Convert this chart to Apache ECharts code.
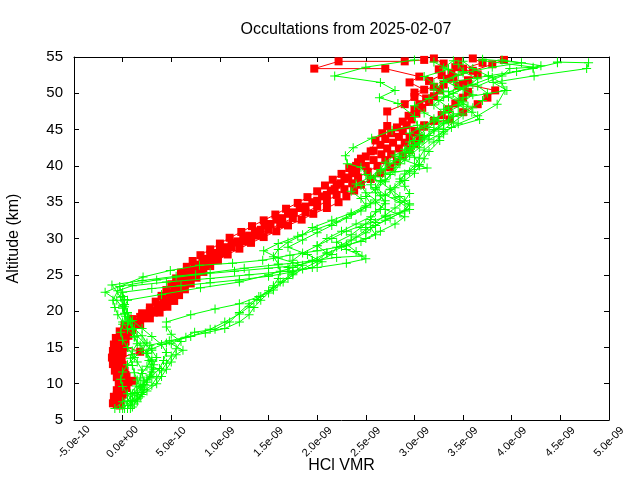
<!DOCTYPE html>
<html>
<head>
<meta charset="utf-8">
<script src="https://cdn.jsdelivr.net/npm/echarts@6/dist/echarts.min.js"></script>
<style>html,body{margin:0;padding:0;background:#fff}#c{width:640px;height:480px}</style>
</head>
<body>
<div id="c"></div>
<script>
// Values in units of 1e-9 (VMR), altitude in km
const titleText = 'Occultations from 2025-02-07';
const xTickLabels = ['-5.0e-10','0.0e+00','5.0e-10','1.0e-09','1.5e-09','2.0e-09','2.5e-09','3.0e-09','3.5e-09','4.0e-09','4.5e-09','5.0e-09'];
const yTickValues = [5,10,15,20,25,30,35,40,45,50,55];

const red1 = [[-0.03,7.0],[-0.05,7.8],[-0.02,8.6],[0.0,9.5],[0.02,10.3],[0.0,11.1],[-0.02,12.0],[-0.03,12.8],[-0.05,13.6],[-0.06,14.4],[-0.04,15.2],[-0.03,16.0],[0.0,16.8],[0.02,17.6],[0.08,18.4],[0.18,19.2],[0.28,20.0],[0.36,20.8],[0.42,21.6],[0.48,22.4],[0.53,23.2],[0.58,24.0],[0.64,24.8],[0.72,25.6],[0.78,26.4],[0.85,27.2],[0.95,28.0],[1.07,28.8],[1.18,29.6],[1.3,30.4],[1.42,31.2],[1.52,32.0],[1.64,32.8],[1.76,33.6],[1.88,34.4],[2.0,35.2],[2.1,36.0],[2.18,36.8],[2.24,37.6],[2.32,38.4],[2.4,39.2],[2.5,40.0],[2.58,40.8],[2.66,41.6],[2.72,42.4],[2.78,43.2],[2.84,44.0],[2.88,44.8],[2.92,45.6],[2.97,46.4],[3.02,47.2],[3.08,48.0],[3.15,48.8],[3.2,49.6],[3.26,50.4],[3.3,51.2],[3.35,52.0],[3.38,52.8],[3.42,53.6],[3.45,54.4]];
const red2 = [[-0.06,7.2],[-0.04,8.0],[0.0,8.8],[0.03,9.6],[0.1,10.4],[0.03,11.2],[0.0,12.0],[-0.02,12.8],[-0.02,13.6],[0.18,14.4],[0.0,15.2],[0.0,16.0],[0.01,16.8],[0.04,17.6],[0.12,18.4],[0.22,19.2],[0.3,20.0],[0.38,20.8],[0.45,21.6],[0.5,22.4],[0.56,23.2],[0.62,24.0],[0.7,24.8],[0.76,25.6],[0.84,26.4],[0.92,27.2],[1.02,28.0],[1.12,28.8],[1.25,29.6],[1.38,30.4],[1.5,31.2],[1.62,32.0],[1.75,32.8],[1.88,33.6],[2.0,34.4],[2.1,35.2],[2.2,36.0],[2.28,36.8],[2.36,37.6],[2.42,38.4],[2.52,39.2],[2.62,40.0],[2.7,40.8],[2.76,41.6],[2.84,42.4],[2.9,43.2],[2.95,44.0],[3.0,44.8],[3.1,45.6],[3.36,46.4],[3.5,47.4],[3.65,48.5],[3.75,49.4],[3.83,50.4],[3.5,51.3],[3.4,52.2],[3.6,53.1],[3.8,54.0],[3.92,54.6]];
const red3 = [[-0.08,7.5],[-0.06,8.4],[-0.03,9.3],[-0.01,10.2],[-0.03,11.1],[-0.05,12.0],[-0.07,12.9],[-0.08,13.8],[-0.07,14.7],[-0.05,15.6],[-0.02,16.5],[0.05,17.4],[0.12,18.3],[0.2,19.0],[0.32,19.8],[0.4,20.6],[0.47,21.5],[0.52,22.4],[0.57,23.3],[0.62,24.2],[0.68,25.1],[0.74,26.0],[0.82,26.9],[0.9,27.8],[1.0,28.6],[1.12,29.4],[1.24,30.2],[1.36,31.0],[1.46,31.8],[1.58,32.6],[1.7,33.4],[1.82,34.2],[1.95,35.0],[2.05,35.8],[2.14,36.6],[2.2,37.4],[2.28,38.2],[2.36,39.0],[2.4,40.0],[2.45,41.0],[2.55,42.0],[2.6,43.5],[2.67,44.5],[2.72,45.5],[2.72,47.5],[2.9,48.5],[3.0,49.5],[3.1,50.5],[2.95,51.5],[3.05,52.3],[2.7,53.4],[1.97,53.4],[2.22,54.4],[2.9,54.4],[3.1,54.6]];
const red4 = [[-0.1,7.3],[-0.09,8.2],[-0.06,9.1],[-0.04,10.0],[-0.06,10.9],[-0.08,11.8],[-0.1,12.7],[-0.11,13.6],[-0.1,14.5],[-0.09,15.4],[-0.07,16.3],[-0.03,17.2],[0.02,18.1],[0.1,18.9],[0.2,19.7],[0.28,20.5],[0.34,21.3],[0.4,22.1],[0.45,22.9],[0.5,23.7],[0.55,24.5],[0.6,25.3],[0.66,26.1],[0.72,26.9],[0.8,27.7],[0.9,28.5],[1.0,29.3],[1.1,30.1],[1.22,30.9],[1.33,31.7],[1.45,32.5],[1.57,33.3],[1.68,34.1],[1.8,34.9],[1.9,35.7],[2.0,36.5],[2.08,37.3],[2.16,38.1],[2.25,38.9],[2.33,39.7],[2.42,40.5],[2.5,41.3],[2.58,42.1],[2.65,42.9],[2.7,43.7],[2.76,44.5],[2.82,45.3],[2.88,46.1],[2.94,46.9],[3.0,47.7],[3.05,48.5],[3.12,49.3],[3.0,50.1],[3.2,50.9],[3.15,51.7],[3.28,52.5],[3.25,53.3],[3.3,54.1],[3.2,54.8]];
const red5 = [[-0.02,7.6],[0.0,8.5],[0.04,9.4],[0.06,10.2],[0.04,11.0],[0.02,11.8],[0.0,12.6],[-0.01,13.4],[0.0,14.2],[0.02,15.0],[0.03,15.8],[0.06,16.6],[0.1,17.4],[0.18,18.2],[0.28,19.0],[0.38,19.8],[0.46,20.6],[0.53,21.4],[0.58,22.2],[0.64,23.0],[0.7,23.8],[0.76,24.6],[0.83,25.4],[0.9,26.2],[0.98,27.0],[1.08,27.8],[1.2,28.6],[1.32,29.4],[1.45,30.2],[1.58,31.0],[1.7,31.8],[1.84,32.6],[1.96,33.4],[2.1,34.2],[2.22,35.0],[2.3,35.8],[2.38,36.6],[2.45,37.4],[2.55,38.2],[2.65,39.0],[2.75,39.8],[2.82,40.6],[2.88,41.4],[2.95,42.2],[3.0,43.0],[3.05,43.8],[3.02,44.6],[3.1,45.4],[3.2,46.2],[3.28,47.0],[3.35,47.8],[3.42,48.6],[3.5,49.4],[3.55,50.2],[3.45,51.0],[3.55,51.8],[3.65,52.6],[3.5,53.4],[3.7,54.2],[3.6,54.8]];

const green1 = [[-0.08,6.6],[0.0,7.5],[0.08,8.6],[0.14,9.7],[0.18,10.8],[0.2,11.9],[0.15,13.0],[0.1,14.0],[0.05,15.0],[0.0,16.0],[-0.02,17.1],[0.0,18.2],[0.03,19.3],[0.0,20.4],[-0.06,21.5],[-0.18,22.6],[0.21,24.7],[0.49,25.6],[0.79,26.3],[1.13,26.6],[1.44,27.0],[1.72,27.7],[2.0,28.3],[2.25,28.9],[2.45,29.6],[2.6,30.5],[2.55,31.5],[2.7,32.5],[2.85,33.5],[2.95,34.6],[2.8,35.6],[2.75,36.7],[2.85,37.8],[2.9,38.9],[3.0,40.0],[3.05,41.1],[3.1,42.2],[3.2,43.3],[3.3,44.4],[3.38,45.3],[3.67,46.4],[3.59,47.4],[3.45,48.4],[3.5,49.4],[3.95,50.4],[3.81,51.5],[4.23,52.4],[4.77,53.4],[4.79,54.2],[4.47,54.3]];
const green2 = [[-0.03,6.6],[0.05,7.6],[0.12,8.7],[0.2,9.8],[0.28,10.9],[0.32,12.0],[0.3,13.1],[0.25,14.2],[0.18,15.3],[0.12,16.4],[0.1,17.5],[0.06,18.6],[0.02,19.7],[0.0,20.8],[-0.02,21.9],[-0.11,23.6],[0.2,24.2],[0.55,24.8],[0.9,25.3],[1.25,25.9],[1.6,26.4],[1.95,26.9],[2.2,27.4],[2.46,27.6],[2.3,28.5],[2.2,29.5],[2.35,30.5],[2.45,31.5],[2.55,32.6],[2.6,33.7],[2.7,34.8],[2.65,35.9],[2.6,37.0],[2.7,38.1],[2.8,39.2],[2.85,40.3],[2.95,41.4],[3.05,42.5],[3.15,43.6],[3.3,44.7],[3.45,45.8],[3.65,46.9],[3.85,48.5],[3.93,50.4],[3.9,51.4],[3.76,52.4],[4.22,53.4],[4.47,54.2]];
const green3 = [[0.05,6.6],[0.1,7.7],[0.15,8.8],[0.22,9.9],[0.3,11.0],[0.38,12.1],[0.42,13.2],[0.45,14.3],[0.4,15.4],[0.3,16.5],[0.2,17.6],[0.1,18.7],[0.05,19.8],[0.02,20.9],[0.0,22.0],[-0.03,23.4],[0.35,24.3],[0.75,25.0],[1.15,25.5],[1.5,25.9],[1.8,26.3],[2.0,27.0],[2.1,28.0],[2.0,29.0],[2.1,30.0],[2.25,31.0],[2.4,32.0],[2.55,33.0],[2.65,34.0],[2.7,35.2],[2.6,36.3],[2.55,37.4],[2.6,38.5],[2.7,39.6],[2.8,40.7],[2.9,41.8],[3.0,42.9],[3.1,44.0],[3.05,45.1],[3.2,46.2],[3.3,47.3],[3.2,48.4],[3.3,49.5],[3.5,50.6],[3.4,51.6],[3.76,52.4],[3.6,53.4],[3.5,54.4]];
const green4 = [[0.0,6.6],[0.08,7.5],[0.15,8.4],[0.2,9.4],[0.22,10.4],[0.2,11.4],[0.25,12.4],[0.3,13.3],[0.25,14.2],[0.28,15.3],[0.48,15.9],[0.65,16.4],[0.85,17.0],[1.05,17.6],[1.2,18.5],[1.3,19.5],[1.35,20.5],[1.42,21.5],[1.5,22.5],[1.55,23.5],[1.6,24.5],[1.62,25.5],[1.6,26.5],[1.55,27.5],[1.6,28.5],[1.7,29.5],[1.85,30.5],[1.95,31.5],[2.15,32.5],[2.35,33.5],[2.5,34.5],[2.45,35.5],[2.35,36.5],[2.4,37.5],[2.55,38.5],[2.65,39.5],[2.7,40.5],[2.8,41.5],[2.95,42.5],[3.0,43.5],[2.95,44.5],[3.1,45.5],[3.2,46.5],[3.35,47.5],[3.5,48.5],[3.35,49.5],[3.2,50.5],[3.3,51.5],[3.45,52.5],[3.3,53.5],[3.4,54.5]];
const green5 = [[0.1,6.8],[0.15,7.8],[0.2,8.8],[0.3,9.8],[0.35,10.8],[0.4,11.8],[0.45,12.8],[0.5,13.8],[0.55,14.8],[0.6,15.8],[0.5,16.8],[0.45,17.8],[0.45,18.5],[0.7,19.5],[0.95,20.3],[1.2,21.0],[1.4,22.0],[1.55,23.2],[1.7,24.5],[1.85,25.8],[2.0,26.8],[2.15,27.8],[2.2,28.8],[2.35,29.8],[2.5,30.8],[2.6,31.8],[2.75,32.8],[2.9,33.8],[2.95,34.8],[2.85,35.8],[2.75,36.8],[2.65,37.8],[2.5,38.8],[2.45,39.8],[2.31,40.3],[2.29,41.4],[2.37,42.5],[2.56,43.8],[2.77,44.9],[3.03,45.6],[3.0,46.8],[2.83,48.6],[2.64,49.4],[2.8,50.4],[2.65,51.5],[2.18,52.4],[2.5,53.6],[3.0,54.6]];
const green6 = [[0.02,6.6],[0.05,7.6],[0.1,8.6],[0.18,9.6],[0.25,10.6],[0.3,11.6],[0.32,12.6],[0.35,13.6],[0.3,14.6],[0.22,15.6],[0.15,16.6],[0.1,17.6],[0.08,18.6],[0.05,19.6],[0.02,20.6],[0.05,21.5],[0.4,22.3],[0.8,23.2],[1.2,24.0],[1.5,25.0],[1.75,26.0],[1.95,27.0],[2.1,28.0],[2.3,29.0],[2.5,30.0],[2.65,31.0],[2.8,32.0],[2.9,33.0],[2.7,34.0],[2.6,35.0],[2.7,36.0],[2.8,37.0],[2.9,38.0],[3.0,39.0],[3.05,40.0],[3.1,41.0],[3.15,42.0],[3.26,43.5],[3.25,44.0],[3.3,45.0],[3.4,46.0],[3.5,47.0],[3.6,48.0],[3.7,49.0],[3.75,50.0],[3.65,51.0],[3.9,52.4],[3.98,53.4],[4.22,53.6],[3.7,54.5]];
const green7 = [[0.05,7.0],[0.15,8.0],[0.25,9.0],[0.35,10.0],[0.4,11.0],[0.45,12.0],[0.5,13.0],[0.55,14.0],[0.62,14.6],[0.5,15.5],[0.74,17.1],[0.95,17.5],[1.1,18.5],[1.2,19.8],[1.3,21.0],[1.42,22.0],[1.55,22.9],[1.65,24.0],[1.75,25.0],[1.7,26.0],[1.75,27.0],[1.85,28.0],[2.0,29.0],[2.15,30.0],[2.3,31.0],[2.5,32.0],[2.7,33.0],[2.95,34.0],[2.85,35.0],[2.7,36.0],[2.6,37.0],[2.65,38.0],[2.7,39.0],[3.13,39.7],[2.85,41.0],[2.95,42.0],[3.05,43.0],[3.1,44.0],[3.2,45.0],[3.3,46.0],[3.4,47.0],[3.35,48.0],[3.25,49.0],[3.4,50.0],[3.55,51.0],[3.65,52.0],[3.5,53.0],[3.45,54.0]];
const green8 = [[0.15,7.5],[0.2,8.5],[0.18,9.5],[0.15,10.5],[0.12,11.5],[0.1,12.5],[0.08,13.5],[0.1,14.5],[0.15,15.5],[0.12,16.5],[0.05,17.5],[0.0,18.5],[-0.05,19.5],[-0.08,20.5],[-0.1,21.5],[-0.05,22.8],[0.1,23.5],[0.45,24.0],[0.9,24.5],[1.3,25.0],[1.7,25.5],[2.0,26.0],[2.3,26.6],[2.5,27.2],[2.4,28.2],[2.3,29.2],[2.4,30.2],[2.5,31.2],[2.6,32.2],[2.7,33.2],[2.8,34.2],[2.9,35.2],[2.95,36.2],[2.9,37.2],[2.85,38.2],[2.95,39.2],[3.05,40.2],[3.0,41.2],[2.95,42.2],[3.05,43.2],[3.15,44.2],[3.25,45.2],[3.35,46.2],[3.45,47.2],[3.55,48.2],[3.45,49.2],[3.35,50.2],[3.6,51.2],[3.8,52.2],[4.05,53.0],[4.3,53.8],[3.9,54.6]];
const green9 = [[0.12,7.2],[0.18,8.2],[0.22,9.2],[0.25,10.2],[0.28,11.2],[0.3,12.2],[0.27,13.2],[0.24,14.2],[0.3,14.8],[0.45,15.6],[0.7,16.5],[0.9,17.5],[1.05,18.5],[1.2,19.6],[1.3,20.6],[1.38,21.6],[1.5,22.8],[1.62,24.0],[1.75,25.2],[1.85,26.3],[1.6,27.3],[1.45,28.3],[1.6,29.3],[1.8,30.3],[2.0,31.3],[2.2,32.3],[2.35,33.3],[2.5,34.3],[2.6,35.3],[2.5,36.3],[2.45,37.3],[2.55,38.3],[2.65,39.3],[2.75,40.3],[2.85,41.3],[2.9,42.3],[2.95,43.3],[3.05,44.3],[3.15,45.3],[3.25,46.3],[3.1,47.3],[3.0,48.3],[3.15,49.3],[3.3,50.3],[3.2,51.3],[3.1,52.3],[3.35,53.3],[3.2,54.3]];
const green10 = [[0.08,6.6],[0.1,7.6],[0.05,8.6],[0.0,9.6],[-0.02,10.6],[0.0,11.6],[0.05,12.6],[0.12,13.6],[0.2,14.6],[0.25,15.6],[0.2,16.6],[0.12,17.6],[0.05,18.6],[0.02,19.6],[0.0,20.6],[0.02,21.6],[0.0,22.6],[0.3,23.1],[0.6,23.5],[0.9,23.9],[1.2,24.3],[1.5,24.8],[1.75,25.4],[1.95,26.0],[2.05,26.8],[1.9,27.8],[1.7,28.8],[1.85,29.8],[2.0,30.8],[2.15,31.8],[2.3,32.8],[2.45,33.8],[2.55,34.8],[2.5,35.8],[2.6,36.8],[2.7,37.8],[2.75,38.8],[2.8,39.8],[2.9,40.8],[2.95,41.8],[3.0,42.8],[3.1,43.8],[3.2,44.8],[3.3,45.8],[3.4,46.8],[3.3,47.8],[3.5,48.8],[3.6,49.8],[3.45,50.8],[3.3,51.8],[3.5,52.8],[3.8,53.6],[4.1,54.2],[3.7,54.7]];

const redProfiles = [red1, red2, red3, red4, red5];
const greenProfiles = [green1, green2, green3, green4, green5, green6, green7, green8, green9, green10];

const chart = echarts.init(document.getElementById('c'), null, {renderer: 'canvas'});
const FONT = 'Liberation Sans, Arial, sans-serif';
const plusPath = 'path://M0,4H9V5H0Z M4,0H5V9H4Z';

const series = [];
redProfiles.forEach((p, i) => series.push({
  name: 'red' + i, type: 'line', data: p, xAxisIndex: 0, yAxisIndex: 0,
  symbol: 'rect', symbolSize: 8, showAllSymbol: true, z: 2,
  lineStyle: {color: '#ff0000', width: 1}, itemStyle: {color: '#ff0000'},
  emphasis: {disabled: true}, silent: true, animation: false
}));
greenProfiles.forEach((p, i) => series.push({
  name: 'green' + i, type: 'line', data: p, xAxisIndex: 0, yAxisIndex: 0,
  symbol: plusPath, symbolSize: 9, showAllSymbol: true, z: 3,
  lineStyle: {color: '#00ff00', width: 1}, itemStyle: {color: '#00ff00'},
  emphasis: {disabled: true}, silent: true, animation: false
}));

const xCommon = {type: 'value', min: -0.5, max: 5, interval: 0.5, splitLine: {show: false},
  axisLine: {show: true, onZero: false, lineStyle: {color: '#000', width: 1}},
  axisTick: {show: true, inside: true, length: 5, lineStyle: {color: '#000'}}};
const yCommon = {type: 'value', min: 5, max: 55, interval: 5, splitLine: {show: false},
  axisLine: {show: true, onZero: false, lineStyle: {color: '#000', width: 1}},
  axisTick: {show: true, inside: true, length: 5, lineStyle: {color: '#000'}}};

chart.setOption({
  animation: false,
  backgroundColor: '#fff',
  title: {text: titleText, left: 341, textAlign: 'center', top: 17,
    textStyle: {fontFamily: FONT, fontSize: 16, fontWeight: 'normal', color: '#000'}},
  grid: {left: 74, right: 31, top: 57, bottom: 60, containLabel: false, outerBoundsMode: 'none'},
  xAxis: [
    Object.assign({}, xCommon, {position: 'bottom',
      name: 'HCl VMR', nameLocation: 'middle', nameGap: 38, nameMoveOverlap: false,
      nameTextStyle: {fontFamily: FONT, fontSize: 16, color: '#000'},
      axisLabel: {show: true, rotate: 45, align: 'center', verticalAlign: 'middle',
        fontFamily: FONT, fontSize: 11, color: '#000', margin: 22,
        formatter: v => xTickLabels[Math.round((v + 0.5) / 0.5)] || ''}}),
    Object.assign({}, xCommon, {position: 'top', axisLabel: {show: false}})
  ],
  yAxis: [
    Object.assign({}, yCommon, {position: 'left',
      name: 'Altitude (km)', nameLocation: 'middle', nameGap: 52, nameRotate: 90, nameMoveOverlap: false,
      nameTextStyle: {fontFamily: FONT, fontSize: 16, color: '#000'},
      axisLabel: {show: true, fontFamily: FONT, fontSize: 15, color: '#000', margin: 11,
        formatter: v => (yTickValues.indexOf(v) >= 0 ? String(v) : '')}}),
    Object.assign({}, yCommon, {position: 'right', axisLabel: {show: false}})
  ],
  series: series
});
</script>
</body>
</html>
